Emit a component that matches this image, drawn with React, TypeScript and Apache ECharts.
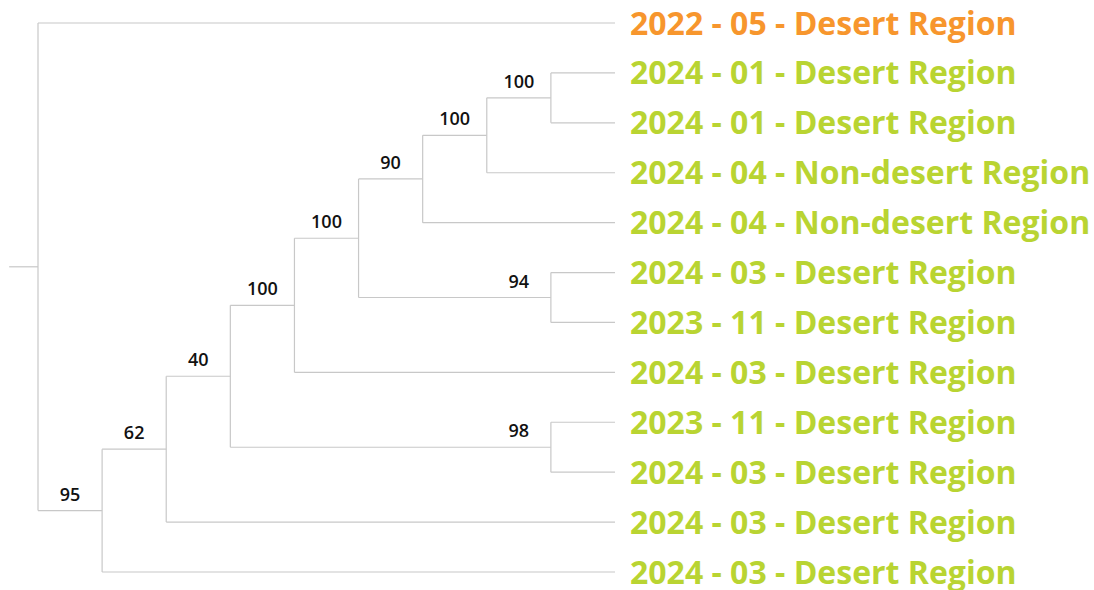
import React, { useEffect, useRef } from "react";
import * as echarts from "echarts";

// Leaves, top to bottom
const leafIds = ["L0", "L1", "L2", "L3", "L4", "L5", "L6", "L7", "L8", "L9", "L10", "L11"];
const leafLabels = [
  "2022 - 05 - Desert Region",
  "2024 - 01 - Desert Region",
  "2024 - 01 - Desert Region",
  "2024 - 04 - Non-desert Region",
  "2024 - 04 - Non-desert Region",
  "2024 - 03 - Desert Region",
  "2023 - 11 - Desert Region",
  "2024 - 03 - Desert Region",
  "2023 - 11 - Desert Region",
  "2024 - 03 - Desert Region",
  "2024 - 03 - Desert Region",
  "2024 - 03 - Desert Region",
];
const leafGroup = ["2022", "2024", "2024", "2024", "2024", "2024", "2024", "2024", "2024", "2024", "2024", "2024"];
const groupColors: Record<string, string> = { "2022": "#F7962D", "2024": "#B9D432" };

// Internal nodes (children listed top to bottom) with bootstrap support
const nodeIds = ["J", "I", "H", "G", "F", "E", "D", "C", "B", "A", "root"];
const nodeChildren = [
  ["L1", "L2"],
  ["J", "L3"],
  ["I", "L4"],
  ["L5", "L6"],
  ["H", "G"],
  ["F", "L7"],
  ["L8", "L9"],
  ["E", "D"],
  ["C", "L10"],
  ["B", "L11"],
  ["L0", "A"],
];
const nodeSupport: (number | null)[] = [100, 100, 90, 94, 100, 100, 98, 40, 62, 95, null];
const rootStub = 0.45;

function layout() {
  const pos: Record<string, { x: number; y: number; h: number }> = {};
  leafIds.forEach((id, i) => (pos[id] = { x: 0, y: i, h: 0 }));
  const childMap: Record<string, string[]> = {};
  nodeIds.forEach((id, i) => (childMap[id] = nodeChildren[i]));
  const calc = (id: string): { y: number; h: number } => {
    if (pos[id]) return pos[id];
    const ch = childMap[id].map(calc);
    const y = (ch[0].y + ch[ch.length - 1].y) / 2;
    const h = 1 + Math.max(...ch.map((c) => c.h));
    pos[id] = { x: 0, y, h };
    return pos[id];
  };
  calc("root");
  const maxH = pos["root"].h;
  Object.keys(pos).forEach((k) => (pos[k].x = maxH - pos[k].h));
  const segments: number[][] = [];
  nodeIds.forEach((id, i) => {
    const p = pos[id];
    const ch = nodeChildren[i].map((c) => pos[c]);
    segments.push([p.x, ch[0].y, p.x, ch[ch.length - 1].y]);
    ch.forEach((c) => segments.push([p.x, c.y, c.x, c.y]));
  });
  const r = pos["root"];
  segments.push([r.x - rootStub, r.y, r.x, r.y]);
  const leafPts = leafIds.map((id, i) => [pos[id].x, pos[id].y, i]);
  const supportPts: number[][] = [];
  nodeIds.forEach((id, i) => {
    if (nodeSupport[i] != null) supportPts.push([pos[id].x - 0.5, pos[id].y, nodeSupport[i] as number]);
  });
  return { segments, leafPts, supportPts, maxH, nLeaves: leafIds.length };
}

export default function App() {
  const ref = useRef<HTMLDivElement>(null);
  useEffect(() => {
    if (!ref.current) return;
    const chart = echarts.init(ref.current, null, { renderer: "svg" });
    const { segments, leafPts, supportPts, maxH, nLeaves } = layout();
    chart.setOption({
      animation: false,
      backgroundColor: "#ffffff",
      grid: { left: 38, right: 479, top: 23, bottom: 18 },
      xAxis: { type: "value", min: 0, max: maxH, show: false },
      yAxis: { type: "value", min: 0, max: nLeaves - 1, inverse: true, show: false },
      series: [
        {
          type: "custom",
          silent: true,
          clip: false,
          data: segments,
          renderItem: (params: any, api: any) => {
            const p1 = api.coord([api.value(0), api.value(1)]);
            const p2 = api.coord([api.value(2), api.value(3)]);
            return {
              type: "line",
              shape: { x1: p1[0], y1: p1[1], x2: p2[0], y2: p2[1] },
              style: { stroke: "#c8c8c8", lineWidth: 1.2 },
            };
          },
        },
        {
          type: "custom",
          silent: true,
          clip: false,
          data: leafPts,
          renderItem: (params: any, api: any) => {
            const p = api.coord([api.value(0), api.value(1)]);
            const i = api.value(2);
            return {
              type: "text",
              style: {
                text: leafLabels[i],
                x: p[0] + 15,
                y: p[1] - 1,
                fill: groupColors[leafGroup[i]],
                fontSize: 32,
                lineHeight: 30,
                fontWeight: "bold",
                fontFamily: "'Open Sans', sans-serif",
                align: "left",
                verticalAlign: "middle",
              },
            };
          },
        },
        {
          type: "custom",
          silent: true,
          clip: false,
          data: supportPts,
          renderItem: (params: any, api: any) => {
            const p = api.coord([api.value(0), api.value(1)]);
            return {
              type: "text",
              style: {
                text: String(api.value(2)),
                x: p[0],
                y: p[1] - 17,
                fill: "#111111",
                fontSize: 18,
                fontWeight: 600,
                fontFamily: "'Open Sans', sans-serif",
                align: "center",
                verticalAlign: "middle",
              },
            };
          },
        },
      ],
    });
    return () => chart.dispose();
  }, []);
  return (
    <div
      ref={ref}
      style={{ position: "fixed", left: 0, top: 0, width: 1094, height: 590, background: "#fff" }}
    />
  );
}
